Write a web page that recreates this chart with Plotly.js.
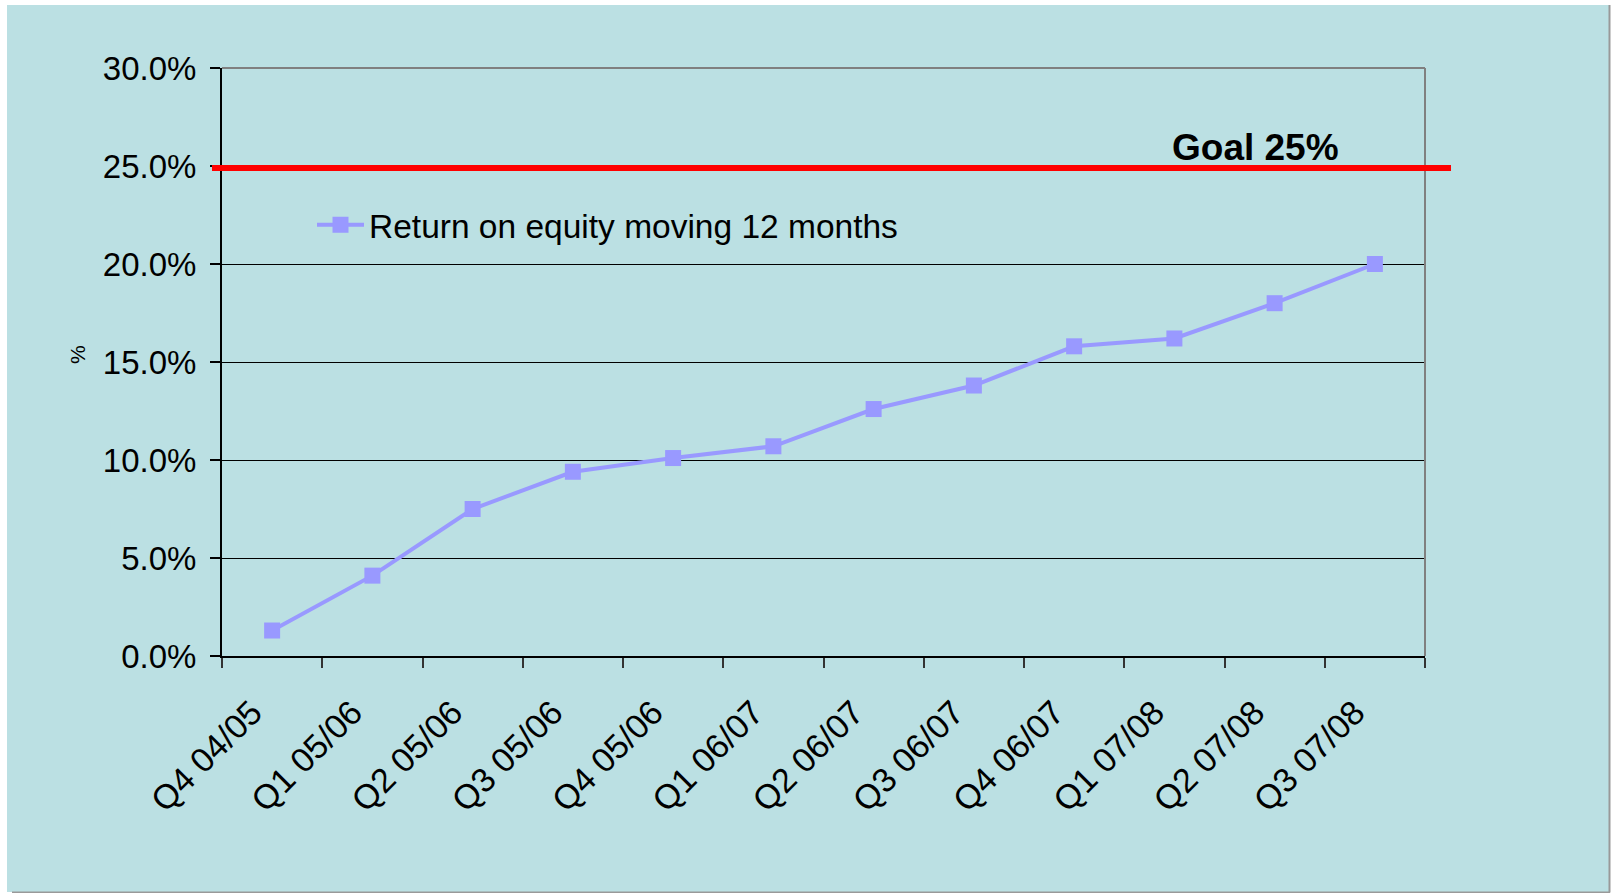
<!DOCTYPE html>
<html>
<head>
<meta charset="utf-8">
<script src="https://cdn.plot.ly/plotly-3.0.1.min.js"></script>
<style>
  html, body { margin: 0; padding: 0; background: #ffffff; }
  #chart { width: 1612px; height: 893px; }
</style>
</head>
<body>
<div id="chart"></div>
<script>
// ---- Data ----
const categories = ["Q4 04/05", "Q1 05/06", "Q2 05/06", "Q3 05/06", "Q4 05/06", "Q1 06/07",
                    "Q2 06/07", "Q3 06/07", "Q4 06/07", "Q1 07/08", "Q2 07/08", "Q3 07/08"];
const roeValues = [1.3, 4.1, 7.5, 9.4, 10.1, 10.7, 12.6, 13.8, 15.8, 16.2, 18.0, 20.0];
const seriesName = "Return on equity moving 12 months";
const goalValue = 25;
const goalLabel = "Goal 25%";
const yTickValues = [0, 5, 10, 15, 20, 25, 30];
const yTickLabels = ["0.0%", "5.0%", "10.0%", "15.0%", "20.0%", "25.0%", "30.0%"];
const yAxisTitle = "%";

// ---- Styling ----
const FONT = "Liberation Sans, Arial, sans-serif";
const BG = "#BBE0E3";
const W = 1612, H = 893;
const M = { l: 222, r: 187, t: 68, b: 237 };
const PW = W - M.l - M.r, PH = H - M.t - M.b;
// convert figure pixel coords to paper coords (relative to plot area)
const px = x => (x - M.l) / PW;
const py = y => (H - M.b - y) / PH;

const trace = {
  x: categories,
  y: roeValues,
  type: "scatter",
  mode: "lines+markers",
  name: seriesName,
  line: { color: "#9999FF", width: 4 },
  marker: { color: "#9999FF", symbol: "square", size: 16 },
  hoverinfo: "x+y"
};

const layout = {
  width: W,
  height: H,
  margin: M,
  paper_bgcolor: "#ffffff",
  plot_bgcolor: BG,
  font: { family: FONT, color: "#000000" },
  showlegend: true,
  legend: {
    x: px(312), xanchor: "left",
    y: py(225), yanchor: "middle",
    bgcolor: "rgba(0,0,0,0)",
    borderwidth: 0,
    font: { family: FONT, size: 33.5, color: "#000000" },
    itemwidth: 47
  },
  xaxis: {
    type: "category",
    range: [-0.5, categories.length - 0.5],
    tickson: "boundaries",
    ticks: "outside",
    ticklen: 10,
    tickwidth: 2,
    tickcolor: "#333333",
    tickangle: -45,
    ticklabelshift: -20,
    ticklabelstandoff: 21,
    tickfont: { family: FONT, size: 34, color: "#000000" },
    showgrid: false,
    showline: true,
    linecolor: "#000000",
    linewidth: 2,
    zeroline: false,
    automargin: false,
    fixedrange: true
  },
  yaxis: {
    range: [0, 30],
    tickmode: "array",
    tickvals: yTickValues,
    ticktext: yTickLabels,
    ticks: "outside",
    ticklen: 10,
    tickwidth: 2,
    tickcolor: "#000000",
    ticklabelstandoff: 7,
    tickfont: { family: FONT, size: 33, color: "#000000" },
    showgrid: true,
    gridcolor: "#000000",
    gridwidth: 1,
    showline: true,
    linecolor: "#000000",
    linewidth: 2,
    zeroline: false,
    automargin: false,
    fixedrange: true
  },
  shapes: [
    // slide background panel
    { type: "rect", xref: "paper", yref: "paper", layer: "below",
      x0: px(7), x1: px(1609), y0: py(5), y1: py(892),
      fillcolor: BG, line: { width: 0 } },
    // right and bottom grey edges of the panel
    { type: "line", xref: "paper", yref: "paper", layer: "below",
      x0: px(1609.5), x1: px(1609.5), y0: py(5), y1: py(892.5),
      line: { color: "#999999", width: 2 } },
    { type: "line", xref: "paper", yref: "paper", layer: "below",
      x0: px(12), x1: px(1610), y0: py(892.5), y1: py(892.5),
      line: { color: "#999999", width: 2 } },
    // grey top & right plot borders
    { type: "line", xref: "paper", yref: "paper", layer: "above",
      x0: 0, x1: 1, y0: 1, y1: 1, line: { color: "#808080", width: 2 } },
    { type: "line", xref: "paper", yref: "paper", layer: "above",
      x0: 1, x1: 1, y0: 0, y1: 1, line: { color: "#808080", width: 2 } },
    // legend background box (hides part of the 20% gridline)
    { type: "rect", xref: "paper", yref: "paper", layer: "above",
      x0: px(239), x1: px(972), y0: py(262), y1: py(194),
      fillcolor: BG, line: { width: 0 } },
    // goal line
    { type: "line", xref: "paper", yref: "y", layer: "above",
      ysizemode: "pixel", yanchor: goalValue, y0: -2, y1: -2,
      x0: px(212), x1: px(1451),
      line: { color: "#FF0000", width: 6 } }
  ],
  annotations: [
    { text: "<b>" + goalLabel + "</b>", xref: "paper", yref: "paper",
      x: px(1255), y: py(147), xanchor: "center", yanchor: "middle",
      showarrow: false, font: { family: FONT, size: 37, color: "#000000" } },
    { text: yAxisTitle, xref: "paper", yref: "paper", textangle: -90,
      x: px(77), y: py(355), xanchor: "center", yanchor: "middle",
      showarrow: false, font: { family: FONT, size: 21, color: "#000000" } }
  ]
};

Plotly.newPlot("chart", [trace], layout, { displayModeBar: false, staticPlot: true });
</script>
</body>
</html>
